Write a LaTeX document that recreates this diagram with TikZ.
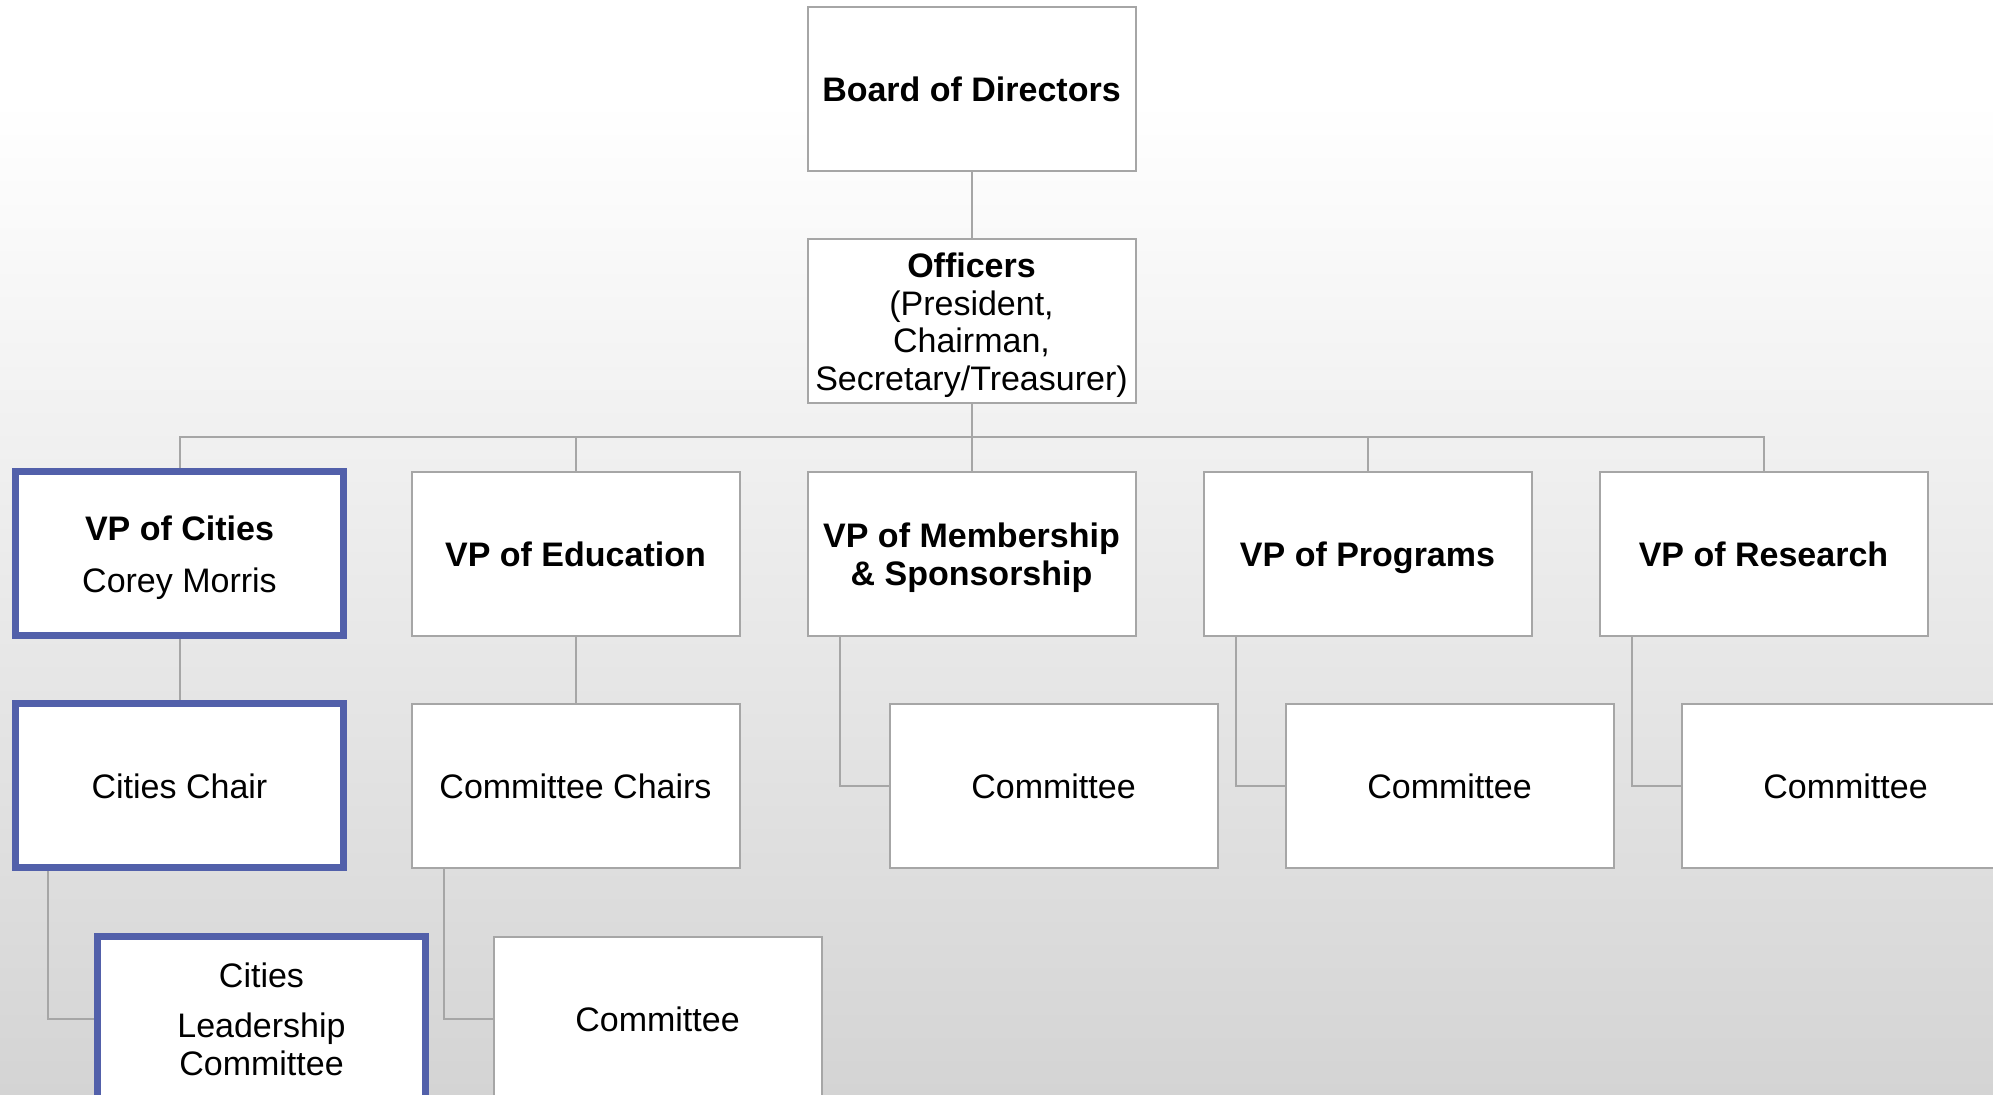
\documentclass[tikz,border=0pt]{standalone}
\usepackage{fontspec}
\setmainfont{Liberation Sans}
\definecolor{linegray}{RGB}{166,166,166}
\definecolor{vpblue}{RGB}{82,96,170}
\definecolor{bggray}{RGB}{212,212,212}

\begin{document}
\begin{tikzpicture}[x=0.5pt, y=-0.5pt,
  box/.style={draw=linegray, line width=1pt, fill=white, minimum width=164pt,
    minimum height=82pt, inner sep=0pt, align=center, text depth=0pt,
    font=\fontsize{17}{18.75}\selectfont},
  hl/.style={box, draw=vpblue, line width=3.5pt},
  link/.style={draw=linegray, line width=1pt}]
\useasboundingbox (0,0) rectangle (1993,1095);
\fill[white] (0,0) rectangle (1993,100);
\shade[top color=white, bottom color=bggray] (0,100) rectangle (1993,1095);
\clip (0,0) rectangle (1993,1095);

% top
\node[box] (board) at (971.5,89) {\textbf{Board of Directors}};
\node[box] (officers) at (971.5,321.5) {\textbf{Officers}\\(President,\\Chairman,\\Secretary/Treasurer)};

% vice presidents
\node[hl] (cities) at (179.5,554) {\textbf{VP of Cities}\\[7pt]Corey Morris};
\node[box] (edu) at (575.5,554) {\textbf{VP of Education}};
\node[box] (memb) at (971.5,554) {\textbf{VP of Membership}\\\textbf{\& Sponsorship}};
\node[box] (prog) at (1367.5,554) {\textbf{VP of Programs}};
\node[box] (res) at (1763.5,554) {\textbf{VP of Research}};

% second level
\node[hl] (citychair) at (179.5,786) {Cities Chair};
\node[box] (educhairs) at (575.5,786) {Committee Chairs};
\node[box] (membcom) at (1053.5,786) {Committee};
\node[box] (progcom) at (1449.5,786) {Committee};
\node[box] (rescom) at (1845.5,786) {Committee};

% third level
\node[hl] (citylead) at (261.5,1019) {Cities\\[6.5pt]Leadership\\Committee};
\node[box] (educom) at (657.5,1019) {Committee};

% connectors
\coordinate (bus) at (971.5,437);
\draw[link] (board) -- (officers);
\foreach \vp in {cities,edu,memb,prog,res}
  \draw[link] (officers.south) |- (bus) -| (\vp.north);
\draw[link] (cities) -- (citychair);
\draw[link] (edu) -- (educhairs);
\foreach \up/\down in {citychair/citylead, educhairs/educom, memb/membcom, prog/progcom, res/rescom}
  \draw[link] ([xshift=-65.75pt]\up.south) |- (\down.west);
\end{tikzpicture}
\end{document}
